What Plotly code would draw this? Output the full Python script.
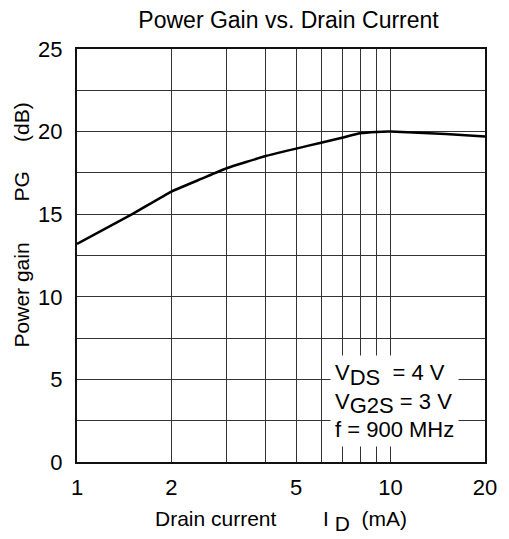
import plotly.graph_objects as go

drain_current = [1, 1.5, 2, 2.5, 3, 4, 5, 6, 7, 8, 9, 10, 15, 20]
power_gain = [13.2, 15.0, 16.37, 17.15, 17.78, 18.52, 18.97, 19.33, 19.63, 19.9, 19.98, 20.0, 19.85, 19.7]

x_ticks = [1, 2, 5, 10, 20]
x_minor = [3, 4, 6, 7, 8, 9]
y_ticks = [0, 5, 10, 15, 20, 25]
y_minor = [2.5, 7.5, 12.5, 17.5, 22.5]

FONT = "Liberation Sans, Arial, sans-serif"
GRID = "#333333"
NB = "\u00a0"


def lowered(s, size):
    return "<sub><span style='font-size:%dpx'>%s</span></sub>" % (size, s)


fig = go.Figure()
fig.add_trace(go.Scatter(x=drain_current, y=power_gain, mode="lines",
                         line=dict(color="black", width=2.5, shape="spline", smoothing=0.4),
                         showlegend=False))

fig.update_layout(
    width=501, height=531,
    margin=dict(l=69, r=13, t=41, b=71),
    paper_bgcolor="white", plot_bgcolor="white",
    font=dict(family=FONT, size=22, color="black"),
    title=dict(text="Power Gain vs. Drain Current", x=0.56, xanchor="center",
               y=0.978, yanchor="middle", font=dict(size=23, family=FONT, color="black")),
    xaxis=dict(type="log", range=[0, 1.30103], tickvals=x_ticks,
               ticktext=[str(v) for v in x_ticks], showgrid=True,
               gridcolor=GRID, gridwidth=1, showline=True, linecolor="#111111",
               linewidth=2, mirror=True, ticks="", ticklabelstandoff=5,
               tickfont=dict(size=22),
               minor=dict(tickvals=x_minor, showgrid=True, gridcolor=GRID, gridwidth=1, ticks=""),
               title=dict(text="Drain current" + NB * 8 + "I" + NB + lowered("D", 21) + NB * 2 + "(mA)",
                          standoff=12, font=dict(size=21)),
               zeroline=False),
    yaxis=dict(range=[0, 25], tickvals=y_ticks, showgrid=True, gridcolor=GRID,
               gridwidth=1, showline=True, linecolor="#111111", linewidth=2,
               mirror=True, ticks="", zeroline=False, ticklabelstandoff=8,
               tickfont=dict(size=22),
               minor=dict(tickvals=y_minor, showgrid=True, gridcolor=GRID, gridwidth=1, ticks="")),
)

# rotated y-axis title (offset upward as in the reference)
fig.add_annotation(xref="paper", yref="paper", x=-0.135, y=0.575, xanchor="center", yanchor="middle",
                   text="Power gain" + NB * 7 + "PG" + NB * 5 + "(dB)", textangle=-90,
                   showarrow=False, font=dict(size=21, family=FONT))

fig.add_annotation(xref="paper", yref="paper", x=0.62, y=0.147, xanchor="left", yanchor="middle",
                   text="V" + lowered("DS", 22) + NB * 2 + "= 4 V<br>V" + lowered("G2S", 22)
                        + " = 3 V<br>f = 900 MHz",
                   showarrow=False, align="left", bgcolor="white",
                   font=dict(size=22, family=FONT), borderpad=4)

fig.write_html("out.html")
